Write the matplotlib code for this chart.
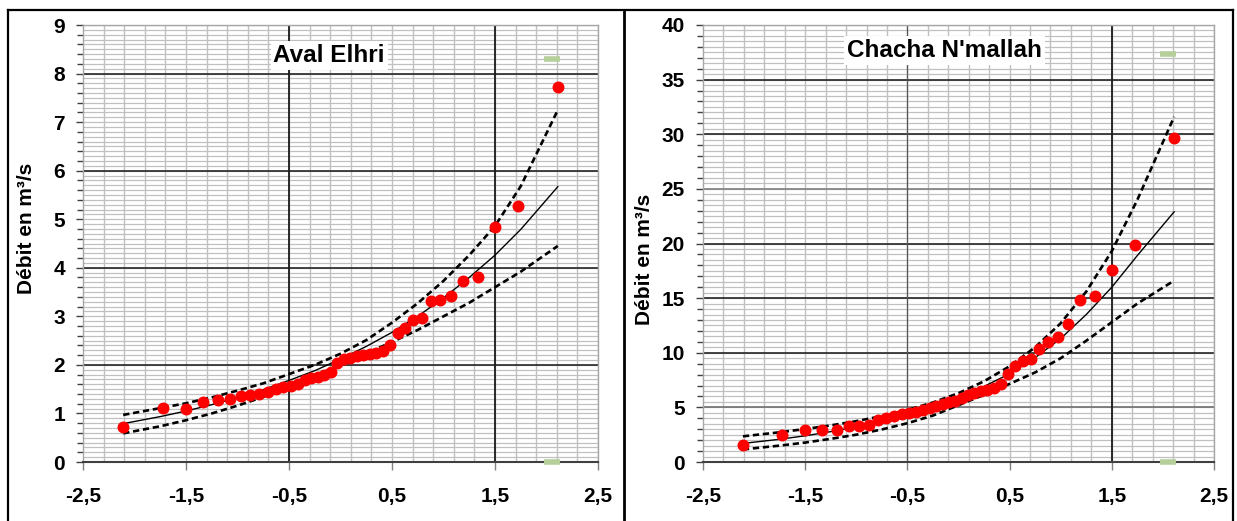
import numpy as np
import matplotlib
matplotlib.use("Agg")
import matplotlib.pyplot as plt
from matplotlib.ticker import MultipleLocator, FixedLocator, FixedFormatter
from matplotlib.lines import Line2D

# ---------------- data ----------------
# reduced normal variable of each ranked observation
z_obs = [-2.113, -1.727, -1.500, -1.331, -1.193, -1.076, -0.970, -0.876, -0.788, -0.706,
         -0.629, -0.555, -0.484, -0.415, -0.349, -0.283, -0.219, -0.156, -0.093, -0.031,
         0.031, 0.093, 0.156, 0.219, 0.283, 0.349, 0.415, 0.484, 0.555, 0.629,
         0.706, 0.788, 0.876, 0.970, 1.076, 1.193, 1.331, 1.500, 1.727, 2.113]

q_aval = [0.73, 1.11, 1.10, 1.23, 1.28, 1.30, 1.35, 1.39, 1.41, 1.44,
          1.50, 1.55, 1.57, 1.60, 1.68, 1.72, 1.75, 1.79, 1.86, 2.04,
          2.12, 2.15, 2.18, 2.21, 2.23, 2.25, 2.28, 2.40, 2.65, 2.76,
          2.93, 2.97, 3.31, 3.34, 3.42, 3.73, 3.82, 4.83, 5.27, 7.72]

q_chacha = [1.6, 2.5, 2.95, 2.95, 2.9, 3.3, 3.3, 3.4, 3.85, 4.05,
            4.2, 4.35, 4.5, 4.6, 4.8, 4.95, 5.1, 5.3, 5.5, 5.6,
            5.9, 6.1, 6.3, 6.5, 6.6, 6.8, 7.1, 8.1, 8.75, 9.25,
            9.45, 10.3, 11.0, 11.4, 12.6, 14.8, 15.2, 17.6, 19.9, 29.7]

# fitted law and confidence limits, read at these abscissas
z_fit = [-2.11, -1.75, -1.5, -1.25, -1.0, -0.75, -0.5, -0.25, 0.0,
         0.25, 0.5, 0.75, 1.0, 1.25, 1.5, 1.75, 2.11]

aval_fit = [0.79, 0.935, 1.05, 1.18, 1.33, 1.49, 1.68, 1.88, 2.12,
            2.38, 2.67, 3.0, 3.38, 3.80, 4.26, 4.79, 5.67]
aval_up = [0.97, 1.11, 1.21, 1.33, 1.47, 1.62, 1.81, 2.0, 2.23,
           2.51, 2.87, 3.27, 3.73, 4.26, 4.86, 5.68, 7.25]
aval_low = [0.59, 0.736, 0.86, 1.0, 1.16, 1.34, 1.55, 1.77, 2.01,
            2.24, 2.47, 2.72, 3.0, 3.28, 3.6, 3.92, 4.45]

chacha_fit = [1.7, 2.08, 2.4, 2.78, 3.22, 3.74, 4.35, 5.07, 5.92,
              6.92, 8.08, 9.55, 11.3, 13.5, 16.0, 18.9, 22.9]
chacha_up = [2.35, 2.72, 3.02, 3.35, 3.74, 4.2, 4.76, 5.45, 6.3,
             7.39, 8.76, 10.5, 12.7, 15.6, 19.3, 24.0, 31.6]
chacha_low = [1.15, 1.5, 1.78, 2.12, 2.5, 2.98, 3.55, 4.25, 5.2,
              6.15, 7.15, 8.2, 9.5, 11.1, 12.8, 14.5, 16.6]

# small light-green marks
green_x = [2.05, 2.05]
aval_green = [8.3, 0.0]
chacha_green = [37.3, 0.0]

x_ticks = [-2.5, -1.5, -0.5, 0.5, 1.5, 2.5]
x_labels = ["-2,5", "-1,5", "-0,5", "0,5", "1,5", "2,5"]

titles = ["Aval Elhri", "Chacha N'mallah"]
ylabel = "Débit en m³/s"

# ---------------- figure ----------------
W, H = 1237, 521
fig = plt.figure(figsize=(W / 100, H / 100), dpi=100)
fig.patch.set_facecolor("white")

FONT = ["Liberation Sans", "DejaVu Sans"]
plt.rcParams["font.family"] = FONT


def fx(px):
    return px / W


def fy(py):
    return 1 - py / H


panels = [
    dict(rect=(83, 25, 598, 462), ymax=9, ystep=1, yminor=0.2, ygrid=0.1,
         ymajor=[(2, "#262626"), (4, "#262626"), (6, "#262626"), (8, "#262626")],
         q=q_aval, fit=aval_fit, up=aval_up, low=aval_low,
         green=aval_green, title=titles[0], tpos=(-0.11, 8.38),
         vmaj=[(-0.5, "#1a1a1a", 1.3), (1.5, "#1a1a1a", 1.3)], ylab=(27, 228)),
    dict(rect=(703, 25, 1214, 462), ymax=40, ystep=5, yminor=1, ygrid=0.5,
         ymajor=[(5, "#707070"), (10, "#262626"), (15, "#262626"), (20, "#262626"),
                 (25, "#808080"), (30, "#262626"), (35, "#262626")],
         q=q_chacha, fit=chacha_fit, up=chacha_up,
         low=chacha_low, green=chacha_green, title=titles[1], tpos=(-0.14, 37.7),
         vmaj=[(-0.5, "#555555", 0.9), (1.5, "#1a1a1a", 1.3)], ylab=(645, 259)),
]

for p in panels:
    x0, y0, x1, y1 = p["rect"]
    ax = fig.add_axes([fx(x0), fy(y1), fx(x1 - x0), (y1 - y0) / H])
    ax.set_xlim(-2.5, 2.5)
    ax.set_ylim(0, p["ymax"])

    # background grid
    hg = np.arange(p["ygrid"], p["ymax"] + 1e-9, p["ygrid"])
    ax.hlines(hg, -2.5, 2.5, colors="#c0c0c0", lw=0.9, zorder=0.5)
    vg = np.arange(-2.3, 2.5 + 1e-9, 0.2)
    ax.vlines(vg, 0, p["ymax"], colors="#c0c0c0", lw=1.0, zorder=0.6)
    for yv, c in p["ymajor"]:
        ax.axhline(yv, color=c, lw=1.2, zorder=0.8)
    for xv, c, lw in p["vmaj"]:
        ax.axvline(xv, color=c, lw=lw, zorder=0.8)

    # curves
    ax.plot(z_fit, p["fit"], color="black", lw=1.0, zorder=2)
    ax.plot(z_fit, p["up"], color="black", lw=1.9, dashes=(2.4, 1.4), zorder=2)
    ax.plot(z_fit, p["low"], color="black", lw=1.9, dashes=(2.4, 1.4), zorder=2)
    # observations
    ax.plot(z_obs, p["q"], linestyle="none", marker="o", ms=7.6,
            mfc="#ff0000", mec="#ff0000", zorder=3)
    # green marks
    ax.plot(green_x, p["green"], linestyle="none", marker="_", ms=12, mew=4,
            color="#b5cf9b", zorder=3, clip_on=False)

    # title box
    ax.text(p["tpos"][0], p["tpos"][1], p["title"], ha="center", va="center",
            fontsize=17.5, fontweight="bold", color="black", zorder=4,
            bbox=dict(boxstyle="square,pad=0.12", facecolor="white", edgecolor="none"))

    # axes styling
    for s in ["left", "top", "right"]:
        ax.spines[s].set_color("#a6a6a6")
        ax.spines[s].set_linewidth(1.0)
    ax.spines["bottom"].set_color("#404040")
    ax.spines["bottom"].set_linewidth(1.5)

    ax.xaxis.set_major_locator(FixedLocator(x_ticks))
    ax.xaxis.set_major_formatter(FixedFormatter(x_labels))
    ax.yaxis.set_major_locator(MultipleLocator(p["ystep"]))
    ax.yaxis.set_minor_locator(MultipleLocator(p["yminor"]))
    ax.tick_params(axis="y", which="major", direction="out", length=5, width=1,
                   color="#404040", pad=8, labelsize=15)
    ax.tick_params(axis="y", which="minor", direction="out", length=4, width=1,
                   color="#404040")
    ax.tick_params(axis="x", which="major", direction="out", length=6, width=1,
                   color="#808080", pad=12, labelsize=15)
    for lab in ax.get_xticklabels() + ax.get_yticklabels():
        lab.set_fontweight("bold")

    fig.text(fx(p["ylab"][0]), fy(p["ylab"][1]), ylabel, rotation=90,
             ha="center", va="center", fontsize=15, fontweight="bold")

# outer frame
fr = dict(transform=fig.transFigure, color="black")
fig.add_artist(Line2D([fx(8), fx(8)], [0, fy(10)], lw=1.6, **fr))
fig.add_artist(Line2D([fx(8), fx(1233)], [fy(10), fy(10)], lw=1.6, **fr))
fig.add_artist(Line2D([fx(624), fx(624)], [0, fy(10)], lw=2.0, **fr))
fig.add_artist(Line2D([fx(1233), fx(1233)], [0, fy(10)], lw=1.6, **fr))

fig.savefig("out.png", dpi=100, facecolor="white")
